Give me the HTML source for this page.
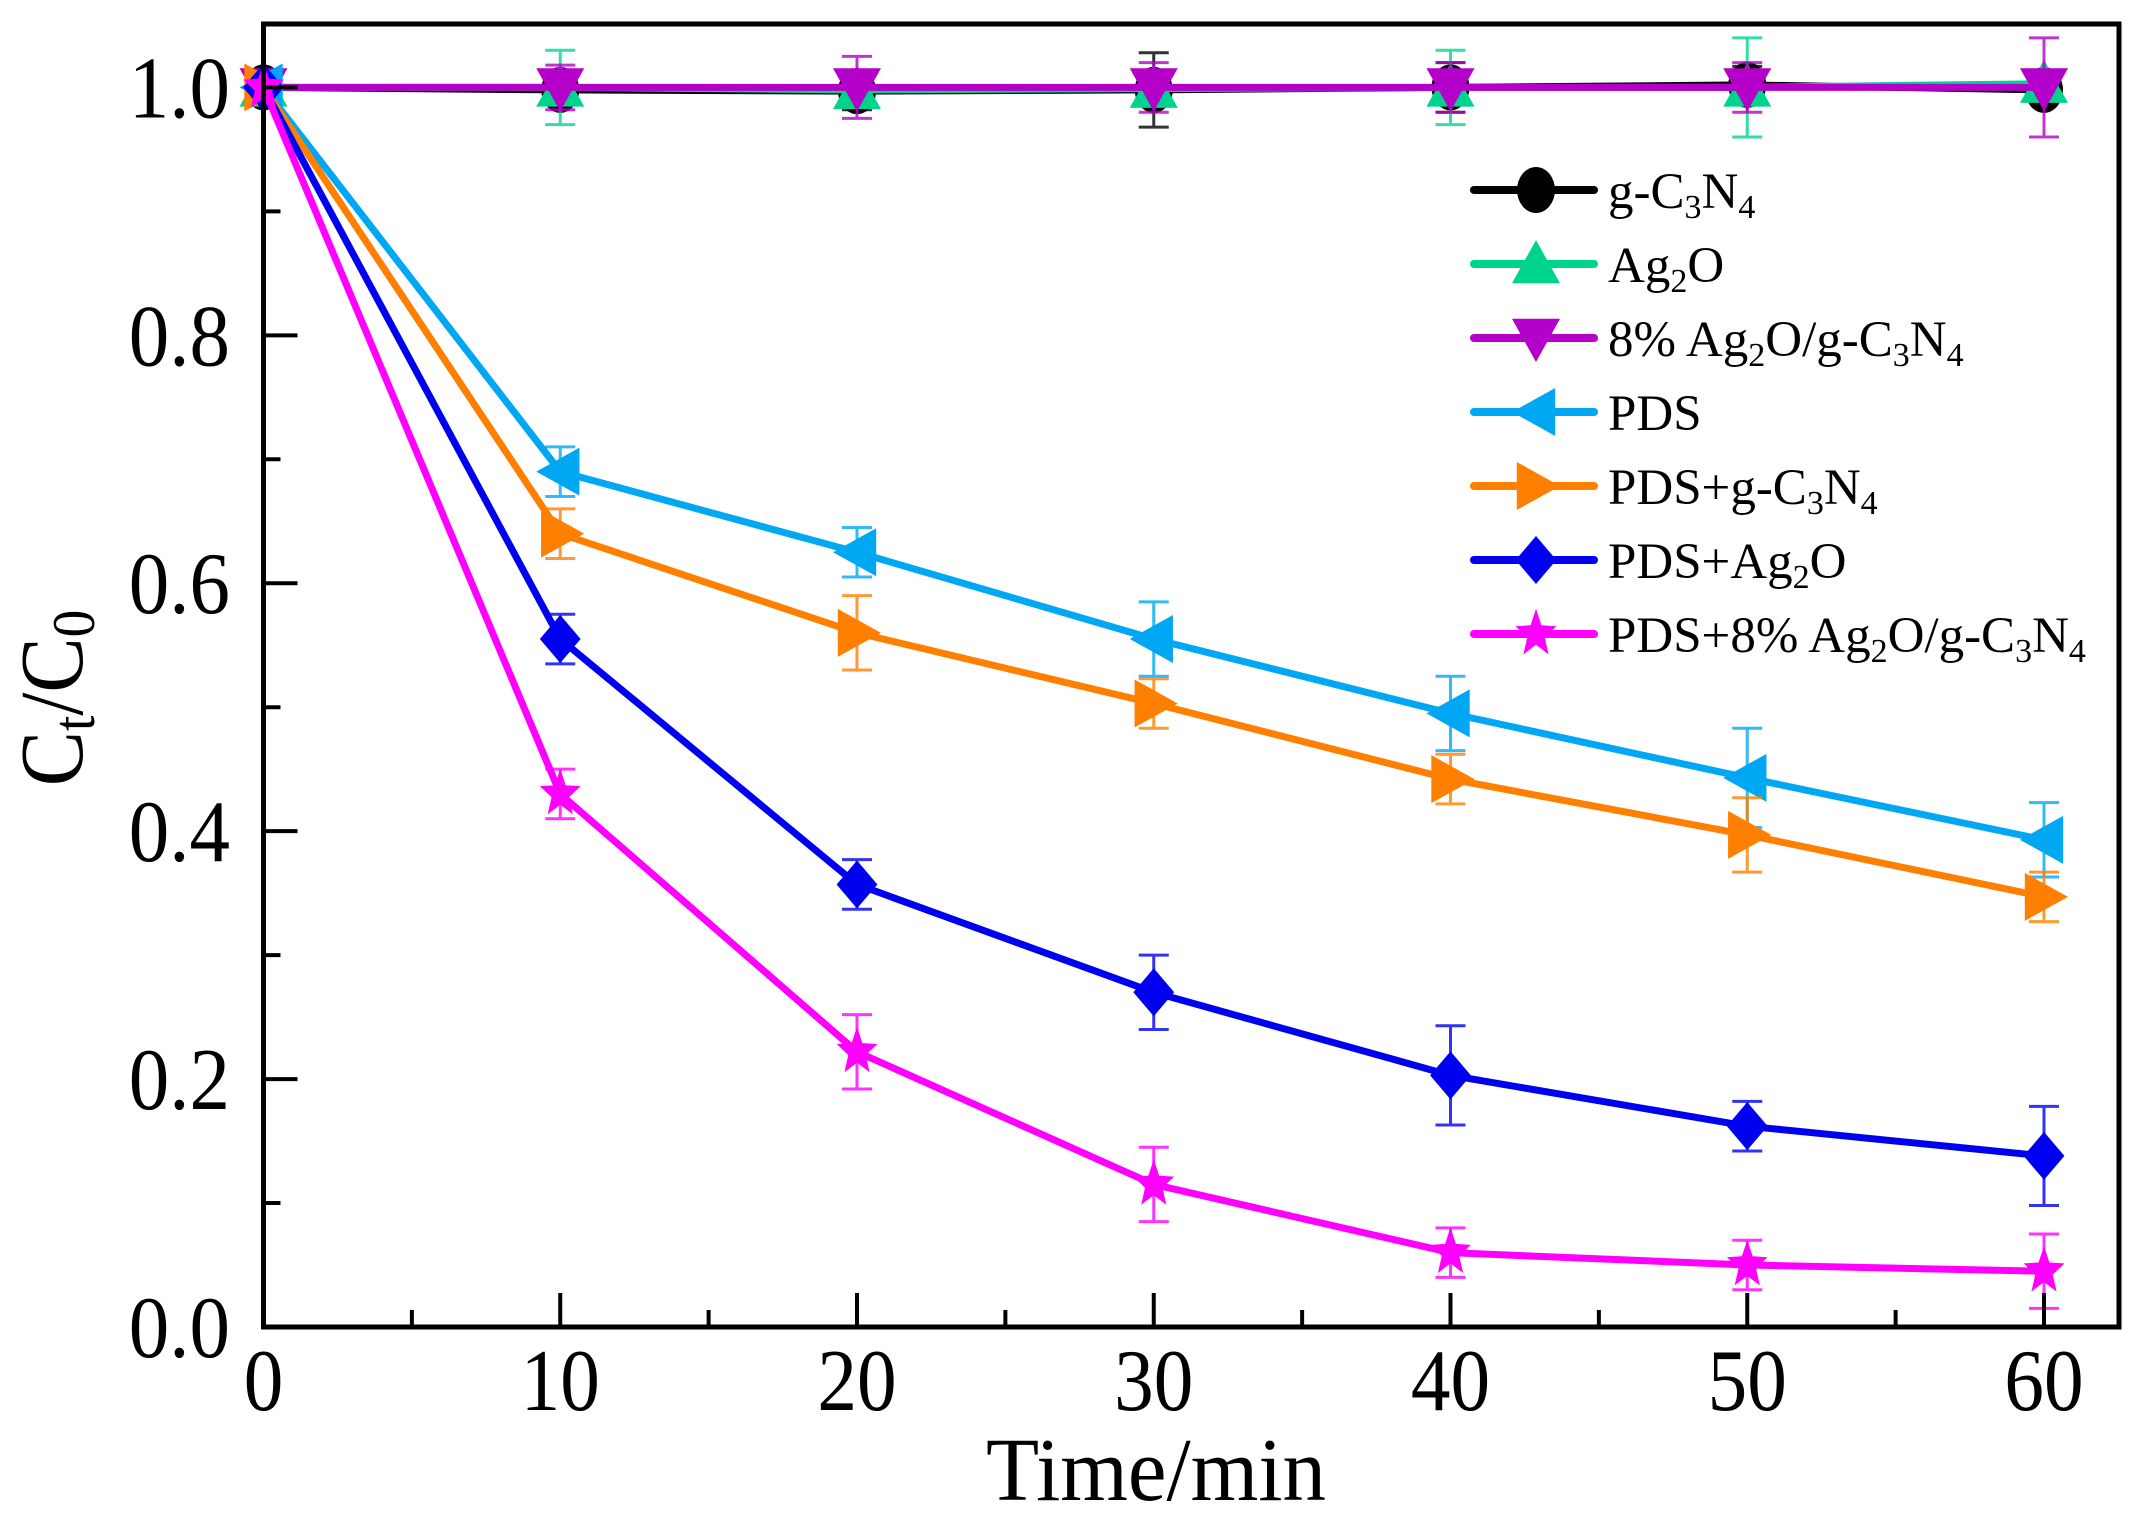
<!DOCTYPE html>
<html><head><meta charset="utf-8"><style>
body{margin:0;background:#fff}
svg{display:block}
text{font-family:"Liberation Serif",serif;fill:#000}
</style></head><body>
<svg id="chart" width="2141" height="1528" viewBox="0 0 2141 1528" xmlns="http://www.w3.org/2000/svg">
<g id="plot"></g>
<g id="axes"></g>
<g id="legend"></g>
<text x="1156" y="1500" font-size="90" text-anchor="middle" textLength="340" lengthAdjust="spacingAndGlyphs">Time/min</text>
<text transform="translate(82,698) rotate(-90) scale(0.92,1)" font-size="90" text-anchor="middle">C<tspan font-size="60" dy="12">t</tspan><tspan dy="-12">/C</tspan><tspan font-size="60" dy="12">0</tspan></text>
</svg>
<script>
const times = [0,10,20,30,40,50,60];
const seriesNames = ["g-C3N4","Ag2O","8% Ag2O/g-C3N4","PDS","PDS+g-C3N4","PDS+Ag2O","PDS+8% Ag2O/g-C3N4"];
const gC3N4 = [1,0.998,0.997,0.998,1.0,1.002,0.998];
const ag2o = [1,1.0,0.998,0.999,1.0,1.0,1.003];
const comp8 = [1,1.0,1.0,1.0,1.0,1.0,1.0];
const pds = [1,0.69,0.625,0.555,0.495,0.443,0.393];
const pdsG = [1,0.64,0.56,0.503,0.442,0.397,0.347];
const pdsAg = [1,0.555,0.357,0.27,0.203,0.162,0.138];
const pds8 = [1,0.43,0.222,0.115,0.06,0.05,0.045];
const errG = [0,0.01,0.015,0.03,0.02,0.015,0.005];
const errAg = [0,0.03,0.012,0.012,0.03,0.04,0.01];
const err8 = [0,0.018,0.025,0.02,0.02,0.02,0.04];
const errPds = [0,0.02,0.02,0.03,0.03,0.04,0.03];
const errPdsG = [0,0.02,0.03,0.02,0.02,0.03,0.02];
const errPdsAg = [0,0.02,0.02,0.03,0.04,0.02,0.04];
const errPds8 = [0,0.02,0.03,0.03,0.02,0.02,0.03];
const xTicks = [0,10,20,30,40,50,60];
const yTicks = [0,0.2,0.4,0.6,0.8,1.0];
const yTickLabels = ["0.0","0.2","0.4","0.6","0.8","1.0"];

const NS="http://www.w3.org/2000/svg";
const X0=263.5,X1=2119,Y0=1327,YT=24;
const xs=t=>263.5+t*(2044-263.5)/60;
const ys=v=>1327-v*(1327-87.4);
function mk(tag,attrs,parent){const e=document.createElementNS(NS,tag);for(const k in attrs)e.setAttribute(k,attrs[k]);parent.appendChild(e);return e;}

const styles=[
 {c:"#000000",m:"circle",d:gC3N4,e:errG},
 {c:"#00d48c",m:"up",d:ag2o,e:errAg},
 {c:"#b400c8",m:"down",d:comp8,e:err8},
 {c:"#00a8f4",m:"left",d:pds,e:errPds},
 {c:"#ff8000",m:"right",d:pdsG,e:errPdsG},
 {c:"#0000f0",m:"diamond",d:pdsAg,e:errPdsAg},
 {c:"#ff00ff",m:"star",d:pds8,e:errPds8}];

function marker(type,cx,cy,col,parent){
 const r=24;let e;
 if(type==="circle"){e=mk('ellipse',{cx:cx,cy:cy,rx:19,ry:23,fill:col},parent);}
 else{let p;
  if(type==="up")p=[[cx,cy-r],[cx+r,cy+r*0.8],[cx-r,cy+r*0.8]];
  else if(type==="down")p=[[cx-r,cy-r*0.8],[cx+r,cy-r*0.8],[cx,cy+r]];
  else if(type==="left")p=[[cx-r,cy],[cx+r*0.8,cy-r],[cx+r*0.8,cy+r]];
  else if(type==="right")p=[[cx+r,cy],[cx-r*0.8,cy-r],[cx-r*0.8,cy+r]];
  else if(type==="diamond")p=[[cx,cy-r],[cx+r*0.85,cy],[cx,cy+r],[cx-r*0.85,cy]];
  else{p=[];for(let i=0;i<10;i++){const a=-Math.PI/2+i*Math.PI/5;const rr=i%2?r*0.45:r*1.05;p.push([cx+rr*Math.cos(a)*0.85,cy+rr*Math.sin(a)]);}}
  e=mk('polygon',{points:p.map(q=>q.join(',')).join(' '),fill:col},parent);}
 return e;
}

const plot=document.getElementById('plot');
styles.forEach((s,si)=>{
 const g=mk('g',{},plot);
 
 
 s.d.forEach((v,i)=>{if(!s.e[i])return;const x=xs(times[i]);
  const eb=mk('path',{d:`M${x},${ys(v+s.e[i])}V${ys(v-s.e[i])}M${x-15},${ys(v+s.e[i])}h30M${x-15},${ys(v-s.e[i])}h30`,stroke:s.c,'stroke-width':3,fill:'none',opacity:0.8},g);
  
  });
 const ln=mk('polyline',{points:s.d.map((v,i)=>xs(times[i])+','+ys(v)).join(' '),stroke:s.c,'stroke-width':7,fill:'none'},g);
 
 
 s.d.forEach((v,i)=>{const m=marker(s.m,xs(times[i]),ys(v),s.c,g);
  
  });
});

const ax=document.getElementById('axes');
const frame=mk('rect',{x:X0,y:YT,width:X1-X0,height:Y0-YT,fill:'none',stroke:'#000','stroke-width':5},ax);


xTicks.forEach(t=>{const x=xs(t);
 const tk=mk('line',{x1:x,x2:x,y1:Y0,y2:Y0-34,stroke:'#000','stroke-width':4},ax);
 
 
 if(t<60){const xm=xs(t+5);const mt=mk('line',{x1:xm,x2:xm,y1:Y0,y2:Y0-17,stroke:'#000','stroke-width':4},ax);
 
 }
 const lb=mk('text',{transform:`translate(${x},1410) scale(0.9,1)`,'font-size':88,'text-anchor':'middle'},ax);lb.textContent=String(t);
 
 });
yTicks.forEach((v,i)=>{const y=ys(v);
 const tk=mk('line',{x1:X0,x2:X0+34,y1:y,y2:y,stroke:'#000','stroke-width':4},ax);
 
 
 if(v<1){const ym=ys(v+0.1);const mt=mk('line',{x1:X0,x2:X0+17,y1:ym,y2:ym,stroke:'#000','stroke-width':4},ax);
 
 }
 const lb=mk('text',{transform:`translate(230,${y+30}) scale(0.92,1)`,'font-size':88,'text-anchor':'end'},ax);lb.textContent=yTickLabels[i];
 
 });

const legendHTML=["g-C<tspan font-size='34' dy='10'>3</tspan><tspan dy='-10'>N</tspan><tspan font-size='34' dy='10'>4</tspan>",
"Ag<tspan font-size='34' dy='10'>2</tspan><tspan dy='-10'>O</tspan>",
"8% Ag<tspan font-size='34' dy='10'>2</tspan><tspan dy='-10'>O/g-C</tspan><tspan font-size='34' dy='10'>3</tspan><tspan dy='-10'>N</tspan><tspan font-size='34' dy='10'>4</tspan>",
"PDS",
"PDS+g-C<tspan font-size='34' dy='10'>3</tspan><tspan dy='-10'>N</tspan><tspan font-size='34' dy='10'>4</tspan>",
"PDS+Ag<tspan font-size='34' dy='10'>2</tspan><tspan dy='-10'>O</tspan>",
"PDS+8% Ag<tspan font-size='34' dy='10'>2</tspan><tspan dy='-10'>O/g-C</tspan><tspan font-size='34' dy='10'>3</tspan><tspan dy='-10'>N</tspan><tspan font-size='34' dy='10'>4</tspan>"];
const lg=document.getElementById('legend');
styles.forEach((s,i)=>{const y=190+i*74;
 const g=mk('g',{},lg);
 
 
 mk('line',{x1:1474,x2:1594,y1:y,y2:y,stroke:s.c,'stroke-width':8,'stroke-linecap':'round'},g);
 marker(s.m,1536,y,s.c,g);
 const t=mk('text',{x:1608,y:y+18,'font-size':51},g);t.innerHTML=legendHTML[i];});
</script>
</body></html>
